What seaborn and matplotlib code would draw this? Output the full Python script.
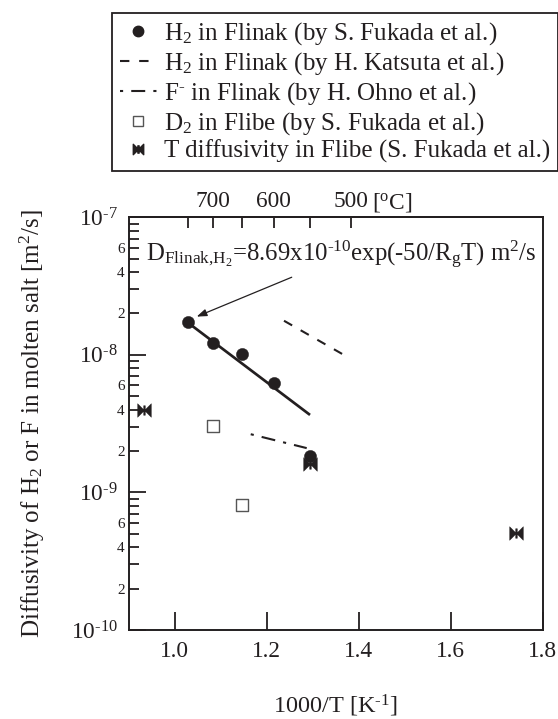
import numpy as np
import pandas as pd
import matplotlib
matplotlib.use("Agg")
import matplotlib.pyplot as plt
import seaborn as sns
from matplotlib.path import Path
from matplotlib.lines import Line2D
from matplotlib.ticker import FuncFormatter, FixedLocator

# ---------------- data ----------------
h2_fukada_x = [1.0277, 1.0834, 1.1452, 1.2154, 1.2938]
h2_fukada_y = [1.72e-8, 1.22e-8, 1.01e-8, 6.23e-9, 1.85e-9]
fit_x = [1.0277, 1.2938]
fit_y = [1.72e-8, 3.66e-9]
katsuta_x = [1.2372, 1.365]
katsuta_y = [1.77e-8, 1.01e-8]
ohno_x = [1.1648, 1.2866]
ohno_y = [2.65e-9, 2.10e-9]
d2_flibe_x = [1.0834, 1.1452]
d2_flibe_y = [3.02e-9, 8.1e-10]
t_flibe_x = [0.9326, 1.2938, 1.742]
t_flibe_y = [3.99e-9, 1.62e-9, 5.1e-10]

x_ticks = [1.0, 1.2, 1.4, 1.6, 1.8]
x_ticklabels = ["1.0", "1.2", "1.4", "1.6", "1.8"]
top_ticks_C = [700, 650, 600, 550, 500, 450]
top_ticklabels = ["", "700", "", "600", "", "500"]
y_decades = [-10, -9, -8, -7]
y_minor_subs = [2, 3, 4, 5, 6, 7, 8, 9]
y_minor_labeled = [2, 4, 6]

legend_labels = [
    "H$_2$ in Flinak (by S. Fukada et al.)",
    "H$_2$ in Flinak (by H. Katsuta et al.)",
    "F$^{\\text{-}}$ in Flinak (by H. Ohno et al.)",
    "D$_2$ in Flibe (by S. Fukada et al.)",
    "T diffusivity in Flibe (S. Fukada et al.)",
]

# ---------------- style ----------------
sns.set_theme(style="ticks")
INK = "#231f20"
plt.rcParams["font.family"] = ["Liberation Serif", "DejaVu Serif"]
plt.rcParams["mathtext.fontset"] = "custom"
plt.rcParams["mathtext.rm"] = "Liberation Serif"
plt.rcParams["mathtext.it"] = "Liberation Serif:italic"
plt.rcParams["mathtext.default"] = "regular"
plt.rcParams["text.color"] = INK
plt.rcParams["axes.labelcolor"] = INK
plt.rcParams["xtick.color"] = INK
plt.rcParams["ytick.color"] = INK
plt.rcParams["axes.edgecolor"] = INK

FS = 16.8

# bow-tie marker
bow_verts = [(-1, -1), (0, 0), (-1, 1), (-1, -1),
             (1, 1), (0, 0), (1, -1), (1, 1),
             (-0.12, -0.7), (0.12, -0.7), (0.12, 0.7), (-0.12, 0.7), (-0.12, -0.7)]
bow_codes = [Path.MOVETO, Path.LINETO, Path.LINETO, Path.CLOSEPOLY,
             Path.MOVETO, Path.LINETO, Path.LINETO, Path.CLOSEPOLY,
             Path.MOVETO, Path.LINETO, Path.LINETO, Path.LINETO, Path.CLOSEPOLY]
bowtie = Path(bow_verts, bow_codes)

LW = 1.5
dash_style = (0, (4.5, 4.7))
dashdot_style = (10.6, (6.7, 3.9, 1.5, 3.9))

fig = plt.figure(figsize=(5.58, 7.19), dpi=100)
ax = fig.add_axes([129 / 558, 1 - 630 / 719, (542.7 - 129) / 558, (630 - 217.3) / 719])

# lines
sns.lineplot(x=fit_x, y=fit_y, ax=ax, color=INK, lw=LW * 1.3, solid_capstyle="butt")
sns.lineplot(x=katsuta_x, y=katsuta_y, ax=ax, color=INK, lw=LW, linestyle=dash_style)
sns.lineplot(x=ohno_x, y=ohno_y, ax=ax, color=INK, lw=LW, linestyle=dashdot_style)

# markers
sns.scatterplot(x=t_flibe_x, y=t_flibe_y, ax=ax, marker=bowtie, s=9.8 ** 2,
                color=INK, edgecolor=INK, linewidth=0.3, zorder=4)
sns.scatterplot(x=h2_fukada_x, y=h2_fukada_y, ax=ax, marker="o", s=8.8 ** 2,
                color=INK, edgecolor=INK, linewidth=0.3, zorder=5)
sns.scatterplot(x=d2_flibe_x, y=d2_flibe_y, ax=ax, marker="s", s=8.2 ** 2,
                facecolor="white", edgecolor="#555555", linewidth=1.0, zorder=5)

ax.set_yscale("log")
ax.set_xlim(0.9, 1.8)
ax.set_ylim(1e-10, 1e-7)

ax.set_xticks(x_ticks)
ax.set_xticklabels(x_ticklabels)
ax.yaxis.set_major_locator(FixedLocator([10.0 ** d for d in y_decades]))
ax.yaxis.set_major_formatter(
    FuncFormatter(lambda v, p: "$10^{\\text{-}%d}$" % int(round(-np.log10(v)))))
ax.yaxis.set_minor_locator(FixedLocator(
    [m * 10.0 ** d for d in y_decades[:-1] for m in y_minor_subs]))


def minor_fmt(v, p):
    m = v / 10 ** np.floor(np.log10(v) + 1e-9)
    mi = int(round(m))
    return str(mi) if mi in y_minor_labeled else ""


ax.yaxis.set_minor_formatter(FuncFormatter(minor_fmt))

ax.tick_params(axis="x", which="major", direction="in", length=12.7, width=1.3,
               labelsize=FS, pad=8, top=False, labeltop=False)
ax.tick_params(axis="x", which="minor", bottom=False, top=False)
ax.tick_params(axis="y", which="major", direction="in", length=12.2, width=1.3,
               labelsize=FS, pad=8, right=False)
ax.tick_params(axis="y", which="minor", direction="in", length=7.2, width=1.3,
               labelsize=11, pad=3, right=False)
for s in ax.spines.values():
    s.set_linewidth(1.4)
    s.set_visible(True)

ax.set_xlabel("1000/T [K$^{\\text{-}1}$]", fontsize=17.5)
ax.xaxis.set_label_coords(0.5, -0.153)
ax.set_ylabel("Diffusivity of H$_2$ or F in molten salt [m$^2$/s]", fontsize=18)
ax.yaxis.set_label_coords(-0.199, 0.5)

# top temperature axis
sec = ax.secondary_xaxis("top")
sec.set_xticks([1000.0 / (c + 273.15) for c in top_ticks_C])
sec.set_xticklabels(top_ticklabels)
sec.tick_params(axis="x", which="major", direction="in", length=7.7, width=1.3,
                labelsize=FS, pad=3.5, color=INK, labelcolor=INK)
sec.spines["top"].set_linewidth(1.4)
fig.text(372 / 558, 1 - 208 / 719, "[$^{\\rm o}$C]", fontsize=FS, ha="left", va="baseline")

# equation + arrow
ax.text(0.041, 0.894,
        "D$_{\\rm Flinak{,}H_2}$=8.69x10$^{\\text{-}10}$exp(-50/R$_{\\rm g}$T) m$^2$/s",
        transform=ax.transAxes, fontsize=17.8, ha="left", va="baseline")
ax.annotate("", xy=(1.0473, 1.897e-8), xytext=(1.254, 3.667e-8),
            arrowprops=dict(arrowstyle="-|>,head_length=0.5,head_width=0.18",
                            color=INK, lw=0.9, shrinkA=0, shrinkB=0))

# legend
handles = [
    Line2D([], [], color=INK, marker="o", linestyle="none", markersize=7.5),
    Line2D([], [], color=INK, lw=LW, linestyle=dash_style),
    Line2D([], [], color=INK, lw=LW, linestyle=dashdot_style),
    Line2D([], [], color="#555555", marker="s", linestyle="none", markersize=6.5,
           markerfacecolor="white", markeredgewidth=1.0),
    Line2D([], [], color=INK, marker=bowtie, linestyle="none", markersize=7.5),
]
leg = fig.legend(handles, legend_labels, loc="upper left",
                 bbox_to_anchor=(112 / 558, 1 - 13 / 719), borderaxespad=0,
                 fontsize=18, frameon=True, fancybox=False, framealpha=1,
                 edgecolor=INK, handlelength=1.5, handletextpad=0.3,
                 borderpad=0.3, labelspacing=0.12)
leg.get_frame().set_linewidth(1.3)

fig.savefig("out.png", dpi=100)
